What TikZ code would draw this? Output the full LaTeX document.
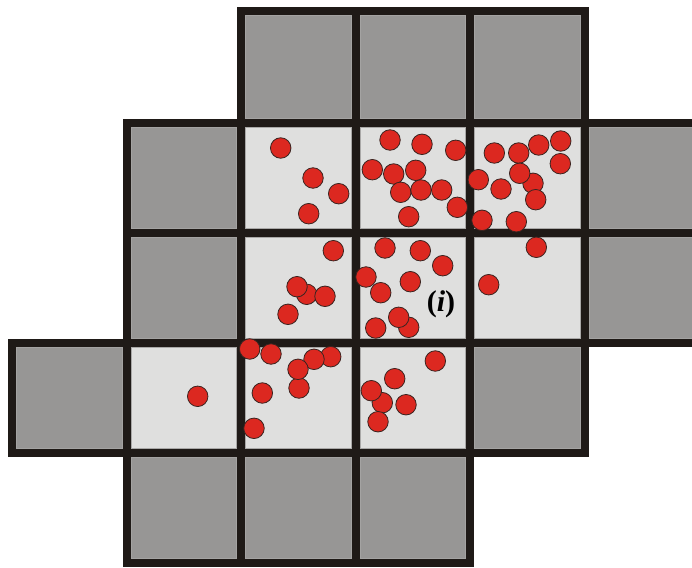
\documentclass[tikz,border=0pt]{standalone}
\usepackage{fontspec}
\setmainfont{Liberation Serif}
\definecolor{gridline}{HTML}{1F1A17}
\definecolor{darkcell}{HTML}{979695}
\definecolor{lightcell}{HTML}{DFDFDE}
\definecolor{darkedge}{HTML}{A4A3A2}
\definecolor{lightedge}{HTML}{A9A8A7}
\definecolor{dotred}{HTML}{DC2820}
\definecolor{dotedge}{HTML}{3A2420}
\tikzset{
  dot/.style={circle, fill=dotred, draw=dotedge, line width=0.8pt, minimum size=20.5pt, inner sep=0pt},
  cellline/.style={draw=gridline, line width=8pt, line join=miter},
  lbl/.style={font=\fontsize{30}{30}\selectfont\bfseries, inner sep=0pt}
}
\begin{document}
\begin{tikzpicture}[x=1pt,y=-1pt]
\useasboundingbox (0,0) rectangle (692,567);
\clip (0,0) rectangle (692,567);
\def\cells{2/0/d,3/0/d,4/0/d,
  1/1/d,2/1/l,3/1/l,4/1/l,5/1/d,
  1/2/d,2/2/l,3/2/l,4/2/l,5/2/d,
  0/3/d,1/3/l,2/3/l,3/3/l,4/3/d,
  1/4/d,2/4/d,3/4/d}
% fills
\foreach \c/\r/\t in \cells {
  \pgfmathsetmacro\xa{{12,126.5,241,355.5,470,584.5,699}[\c]}
  \pgfmathsetmacro\xb{{12,126.5,241,355.5,470,584.5,699}[\c+1]}
  \pgfmathsetmacro\ya{{11,122.75,233,343,453,563}[\r]}
  \pgfmathsetmacro\yb{{11,122.75,233,343,453,563}[\r+1]}
  \if d\t
    \fill[darkcell] (\xa,\ya) rectangle (\xb,\yb);
    \draw[darkedge, line width=1pt] (\xa+4.5,\ya+4.5) rectangle (\xb-4.5,\yb-4.5);
  \else
    \fill[lightcell] (\xa,\ya) rectangle (\xb,\yb);
    \draw[lightedge, line width=1pt] (\xa+4.5,\ya+4.5) rectangle (\xb-4.5,\yb-4.5);
  \fi
}
% black outlines
\foreach \c/\r/\t in \cells {
  \pgfmathsetmacro\xa{{12,126.5,241,355.5,470,584.5,699}[\c]}
  \pgfmathsetmacro\xb{{12,126.5,241,355.5,470,584.5,699}[\c+1]}
  \pgfmathsetmacro\ya{{11,122.75,233,343,453,563}[\r]}
  \pgfmathsetmacro\yb{{11,122.75,233,343,453,563}[\r+1]}
  \draw[cellline] (\xa,\ya) rectangle (\xb,\yb);
}
% dots
\foreach \x/\y [count=\i] in {
  280.7/148, 313/178, 338.7/193.7, 308.7/213.7,
  390/140, 422/144.3, 455.7/150.3, 372.3/169.7, 393.7/174, 415.7/170.3,
  400.7/192.3, 421/190, 441.7/190, 457.3/207.3, 408.7/216.7,
  494.3/153, 518.7/153, 538.7/145, 560.7/141, 560.3/163.7, 533/183.3,
  519.7/173.3, 478.3/179.7, 501/189, 535.7/199.7, 482/220.3, 516.3/221.7, 536.3/247.3,
  333.3/250.7, 306.7/294.3, 297/286.7, 325/296.3, 288/314.3,
  385/248, 420.3/250.7, 442.7/265.7, 366/277, 410.3/281.7, 380.7/292.7,
  408.7/327.3, 398.7/317.3, 375.7/328, 488.7/284.7,
  249.7/349, 271/354, 330.7/356.7, 314/359.3, 299/388, 298/369.3,
  262.3/393, 197.7/396.3, 254/428.3,
  435.3/361, 394.7/378.7, 382.3/402.7, 371.3/390.7, 406/404.7, 378/421.7}
{
  \node[dot] (d\i) at (\x,\y) {};
}
\node[lbl] (label) at (441,304.5) {(\textit{i})};
\end{tikzpicture}
\end{document}
